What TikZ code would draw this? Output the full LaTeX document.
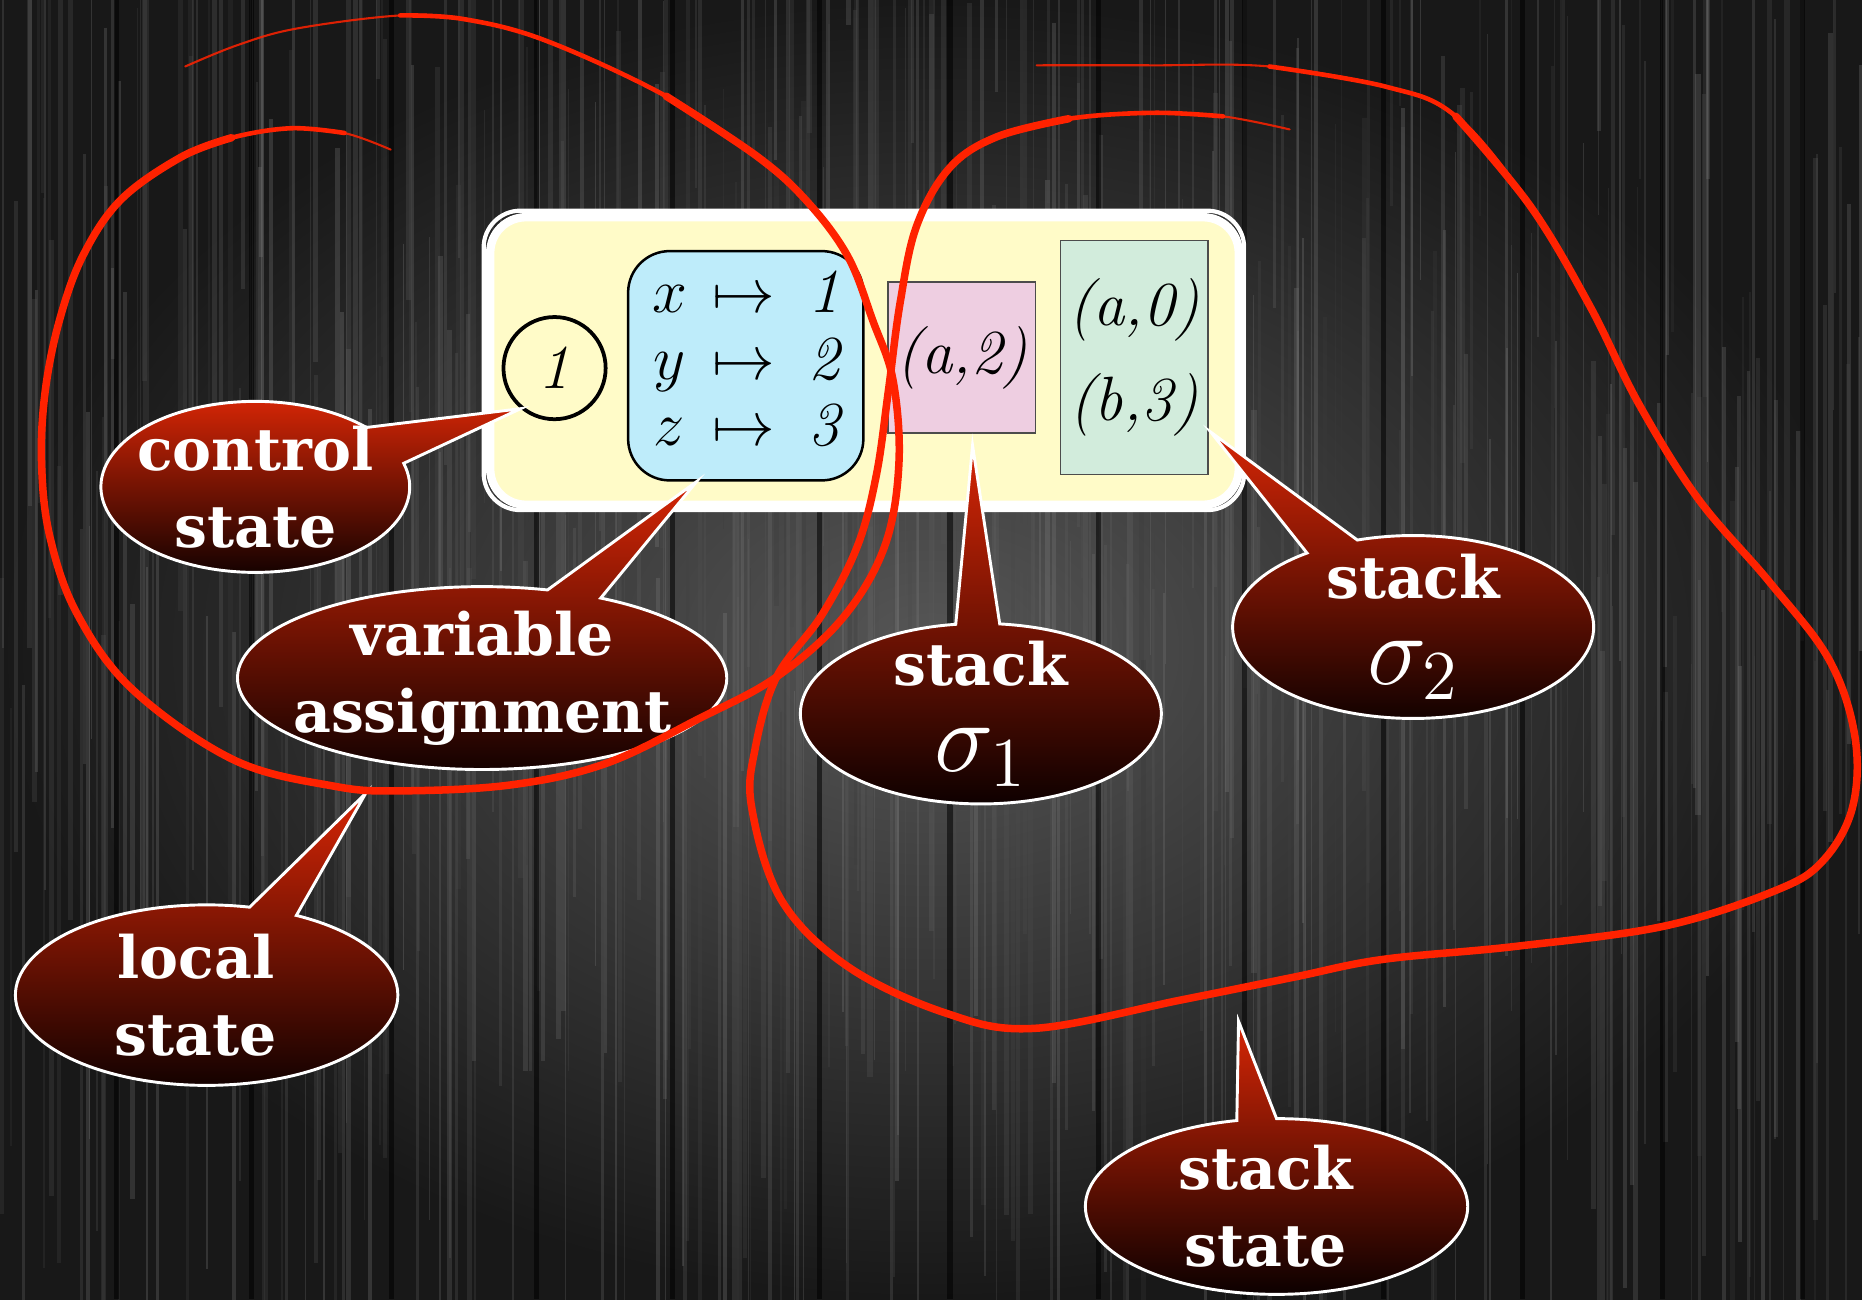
\RequirePackage{fix-cm}
\documentclass[tikz,border=0pt]{standalone}
\usepackage{fontspec}
\usepackage{amsmath}
\newfontfamily\bubfont{DejaVu Serif}
\usetikzlibrary{calc}

\definecolor{woodlight}{RGB}{86,86,86}
\definecolor{wooddark}{RGB}{24,24,24}
\definecolor{confyellow}{RGB}{255,251,200}
\definecolor{valblue}{RGB}{190,236,250}
\definecolor{stkpink}{RGB}{238,206,225}
\definecolor{stkgreen}{RGB}{210,236,220}
\definecolor{bubtop}{RGB}{215,38,6}
\definecolor{bubbot}{RGB}{12,0,0}
\definecolor{loopred}{RGB}{255,34,0}

\tikzset{
  statebox/.style={draw=white, line width=2pt, fill=confyellow,
    rounded corners=0.3cm, minimum width=6.3cm, minimum height=2.42cm},
  roughwhite/.style={draw=white, line width=1pt, rounded corners=0.31cm},
  ctrl/.style={circle, draw=black, line width=0.9pt, minimum size=0.86cm,
    inner sep=0pt, font=\fontsize{15}{16}\selectfont\itshape},
  valbox/.style={draw=black, line width=0.6pt, fill=valblue,
    rounded corners=0.35cm, minimum width=1.98cm, minimum height=1.93cm,
    inner sep=0pt, font=\fontsize{15}{16}\selectfont},
  stkbox/.style={draw=black!70, line width=0.4pt, inner sep=0pt,
    minimum width=1.24cm, align=center,
    font=\fontsize{15}{22.7}\selectfont\itshape},
  bubtext/.style={text=white, align=center, inner sep=0pt,
    font=\bubfont\bfseries\fontsize{14}{18.5}\selectfont},
  bubble/.style={draw=white, line width=0.7pt, top color=bubtop,
    bottom color=bubbot},
  redloop/.style={draw=loopred, line width=1.8pt, line cap=round,
    line join=round},
  redmid/.style={draw=loopred, line width=1.1pt, line cap=round},
  redthin/.style={draw=loopred, line width=0.5pt, line cap=round,
    opacity=.85},
}

% #1 centre, #2/#3 radii, #4/#5 arc from/to, #6 tip
\newcommand\callout[6]{%
  \path[bubble] (#1) ++(#4:#2 and #3)
    arc[start angle=#4, end angle=#5, x radius=#2, y radius=#3]
    -- (#6) -- cycle;}

\begin{document}
\begin{tikzpicture}[x=0.01cm, y=-0.01cm]
  \useasboundingbox (0,0) rectangle (1568,1094);
  \clip (0,0) rectangle (1568,1094);

  % wooden planks
  \shade[inner color=woodlight, outer color=wooddark] (0,0) rectangle (1568,1094);
  \pgfmathsetseed{11}
  \foreach \k in {1,...,450}{
    \pgfmathsetmacro\xa{rnd*1568}
    \pgfmathsetmacro\ya{rnd*900-300}
    \pgfmathsetmacro\yb{\ya+300+rnd*700}
    \pgfmathsetmacro\gr{22+rnd*28}
    \pgfmathsetmacro\lw{0.2+rnd*1.1}
    \draw[line width=\lw pt, white!\gr!black, opacity=.3] (\xa,\ya) -- (\xa,\yb);
  }
  \foreach \sx in {98,212,330,452,566,690,800,925,1048,1165,1282,1400,1518}
    \draw[black, line width=1.2pt, opacity=.55] (\sx,0) -- (\sx,1094);

  % the configuration
  \node[statebox] (conf) at (728,304) {};
  \draw[roughwhite] ($(conf.south west)+(-2,1)$) rectangle ($(conf.north east)+(1,-2)$);
  \node[ctrl] (q) at (467,310) {1};
  \node[valbox] (val) at (628,308) {$\begin{array}{@{}c@{\hspace{6pt}}c@{\hspace{8pt}}c@{}}
      x & \mapsto & \mathit{1}\\
      y & \mapsto & \mathit{2}\\
      z & \mapsto & \mathit{3}
    \end{array}$};
  \node[stkbox, fill=stkpink, minimum height=1.27cm] (s1) at (810,301) {(a,2)};
  \node[stkbox, fill=stkgreen, minimum height=1.97cm] (s2) at (955,301) {(a,0)\\(b,3)};

  % callouts
  \coordinate (ctl) at (215,410);
  \coordinate (var) at (406,571);
  \coordinate (stk1) at (826,601);
  \coordinate (stk2) at (1190,528);
  \coordinate (loc) at (174,838);
  \coordinate (sst) at (1075,1016);
  \coordinate (s1tip) at ($(s1.south)+(9,10)$);
  \coordinate (s2tip) at ($(s2.east)+(2,63)$);
  \coordinate (loctip) at (308,668);
  \coordinate (ssttip) at (1043,860);

  \callout{ctl}{130}{72}{-16}{316}{q.230}
  \node[bubtext] (ctlT) at (ctl) {control\\state};
  \callout{var}{206}{77}{-61}{285.5}{val.247}
  \node[bubtext] (varT) at (var) {variable\\assignment};
  \callout{stk1}{152}{76}{-84}{262}{s1tip}
  \node[bubtext] (stk1T) at (stk1) {stack\\[2pt]{\fontsize{24}{24}\selectfont$\sigma_1$}};
  \callout{stk2}{152}{77}{-108}{234}{s2tip}
  \node[bubtext] (stk2T) at (stk2) {stack\\[2pt]{\fontsize{24}{24}\selectfont$\sigma_2$}};
  \callout{loc}{161}{76}{-62}{283}{loctip}
  \node[bubtext, xshift=-0.09cm] (locT) at (loc) {local\\state};
  \callout{sst}{161}{74}{-90}{258}{ssttip}
  \node[bubtext, xshift=-0.09cm] (sstT) at (sst) {stack\\state};

  % local state loop
  \draw[redthin] plot[smooth, tension=.6] coordinates {(329,126) (290,112) (245,108)
    (195,116) (153,132) (102,168) (70,215) (50,270) (38,330) (35,390) (42,452)
    (65,517) (112,581) (197,640) (281,662) (337,666) (430,661) (510,643) (589,605)
    (654,570) (710,520) (745,460) (757,390) (752,320) (735,270) (714,216) (680,170)
    (638,132) (561,81) (459,34) (390,16) (337,13) (250,24) (200,38) (156,56)};
  \draw[redmid] plot[smooth, tension=.6] coordinates {(290,112) (245,108)
    (195,116) (153,132) (102,168) (70,215) (50,270) (38,330) (35,390) (42,452)
    (65,517) (112,581) (197,640) (281,662) (337,666) (430,661) (510,643) (589,605)
    (654,570) (710,520) (745,460) (757,390) (752,320) (735,270) (714,216) (680,170)
    (638,132) (561,81) (459,34) (390,16) (337,13)};
  \draw[redloop] plot[smooth, tension=.6] coordinates {(195,116) (153,132) (102,168)
    (70,215) (50,270) (38,330) (35,390) (42,452)
    (65,517) (112,581) (197,640) (281,662) (337,666) (430,661) (510,643) (589,605)
    (654,570) (710,520) (745,460) (757,390) (752,320) (735,270) (714,216) (680,170)
    (638,132) (561,81)};
  % stack state loop
  \draw[redthin] plot[smooth, tension=.6] coordinates {(1086,109) (1030,98) (971,95)
    (900,100) (840,115) (800,141) (772,190) (758,255) (748,330) (738,400) (722,460)
    (692,518) (654,570) (636,630) (633,680) (658,758) (714,814) (796,853) (871,866)
    (995,842) (1089,823) (1164,808) (1276,797) (1401,780) (1495,750) (1535,725)
    (1560,680) (1562,620) (1540,555) (1490,490) (1430,420) (1380,340) (1339,258)
    (1289,174) (1226,98) (1167,73) (1069,56) (970,55) (873,55)};
  \draw[redmid] plot[smooth, tension=.6] coordinates {(1030,98) (971,95)
    (900,100) (840,115) (800,141) (772,190) (758,255) (748,330) (738,400) (722,460)
    (692,518) (654,570) (636,630) (633,680) (658,758) (714,814) (796,853) (871,866)
    (995,842) (1089,823) (1164,808) (1276,797) (1401,780) (1495,750) (1535,725)
    (1560,680) (1562,620) (1540,555) (1490,490) (1430,420) (1380,340) (1339,258)
    (1289,174) (1226,98) (1167,73) (1069,56)};
  \draw[redloop] plot[smooth, tension=.6] coordinates {(900,100) (840,115) (800,141)
    (772,190) (758,255) (748,330) (738,400) (722,460)
    (692,518) (654,570) (636,630) (633,680) (658,758) (714,814) (796,853) (871,866)
    (995,842) (1089,823) (1164,808) (1276,797) (1401,780) (1495,750) (1535,725)
    (1560,680) (1562,620) (1540,555) (1490,490) (1430,420) (1380,340) (1339,258)
    (1289,174) (1226,98)};
\end{tikzpicture}
\end{document}
